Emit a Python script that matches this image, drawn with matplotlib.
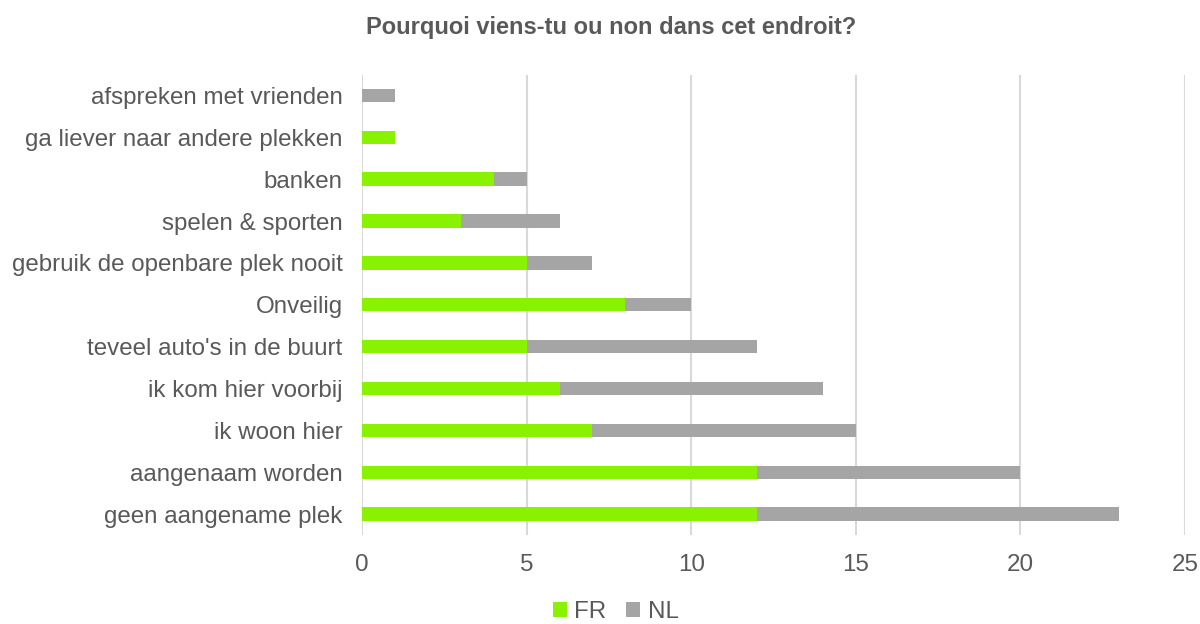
import matplotlib.pyplot as plt
import numpy as np

plt.rcParams["font.family"] = ["Liberation Sans", "DejaVu Sans"]

CATEGORIES = [
    "afspreken met vrienden",
    "ga liever naar andere plekken",
    "banken",
    "spelen & sporten",
    "gebruik de openbare plek nooit",
    "Onveilig",
    "teveel auto's in de buurt",
    "ik kom hier voorbij",
    "ik woon hier",
    "aangenaam worden",
    "geen aangename plek",
]
FR = [0, 1, 4, 3, 5, 8, 5, 6, 7, 12, 12]
NL = [1, 0, 1, 3, 2, 2, 7, 8, 8, 8, 11]

GREEN = "#88f200"
GREY = "#a5a5a5"
TEXT = "#595959"

fig = plt.figure(figsize=(12, 6.24), dpi=100)
ax = fig.add_axes([0.3017, 0.1426, 0.6858, 0.738])

y = np.arange(len(CATEGORIES))[::-1]
h = 0.32
ax.barh(y, FR, height=h, color=GREEN, label="FR", zorder=3)
ax.barh(y, NL, left=FR, height=h, color=GREY, label="NL", zorder=3)

ax.set_xlim(0, 25)
ax.set_ylim(-0.5, len(CATEGORIES) - 0.5)
ax.set_xticks(range(0, 26, 5))
ax.set_yticks(y)
ax.set_yticklabels(CATEGORIES)
ax.tick_params(axis="both", length=0, labelsize=17.4, colors=TEXT)
ax.tick_params(axis="x", pad=14)
ax.tick_params(axis="y", pad=14)
ax.grid(axis="x", color="#d9d9d9", linewidth=1.5, zorder=0)
for s in ax.spines.values():
    s.set_visible(False)

fig.suptitle("Pourquoi viens-tu ou non dans cet endroit?", x=0.509, y=0.975,
             fontsize=17, fontweight="bold", color=TEXT)

fig.legend(loc="center", bbox_to_anchor=(0.513, 0.019), ncol=2, frameon=False,
           fontsize=17.4, labelcolor=TEXT, handlelength=0.6, handleheight=0.6,
           handletextpad=0.3, columnspacing=0.8)

fig.savefig("out.png", dpi=100)
